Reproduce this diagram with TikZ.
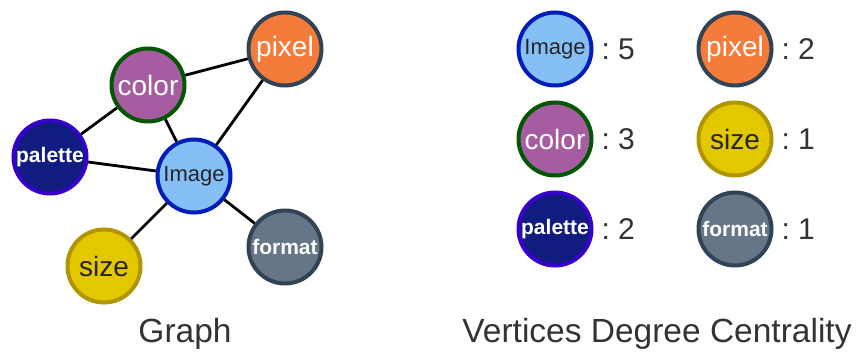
\documentclass[tikz,border=0pt]{standalone}
\usepackage{fontspec}
\setmainfont{Liberation Sans}
\usetikzlibrary{positioning}

\definecolor{imgfill}{HTML}{85BFF6}
\definecolor{imgline}{HTML}{001DBC}
\definecolor{colfill}{HTML}{A65CA0}
\definecolor{colline}{HTML}{005700}
\definecolor{palfill}{HTML}{111C80}
\definecolor{palline}{HTML}{3700CC}
\definecolor{pixfill}{HTML}{F57B3A}
\definecolor{pixline}{HTML}{314354}
\definecolor{sizfill}{HTML}{E3C800}
\definecolor{sizline}{HTML}{B09500}
\definecolor{fmtfill}{HTML}{647687}
\definecolor{fmtline}{HTML}{314354}
\definecolor{txtdark}{HTML}{333333}

\begin{document}
\begin{tikzpicture}[x=1pt, y=-1pt,
    vtx/.style n args={3}{circle, minimum size=73pt, inner sep=0pt,
        line width=4pt, fill=#1, draw=#2, text=#3},
    edge/.style={line width=2.8pt, black},
    deg/.style={inner sep=0pt, text=txtdark, font=\fontsize{30}{30}\selectfont},
    title/.style={anchor=base, text=txtdark, font=\fontsize{33.5}{34}\selectfont}]
    % 1. Khung ve
    \useasboundingbox (0,0) rectangle (859,352);

    % 2. Cac dinh cua do thi
    \node[vtx={imgfill}{imgline}{black!85}, font=\fontsize{22}{22}\selectfont] (img) at (194,176) {Image};
    \node[vtx={colfill}{colline}{white}, font=\fontsize{28}{28}\selectfont] (col) at (148,85) {color};
    \node[vtx={palfill}{palline}{white}, font=\bfseries\fontsize{21}{21}\selectfont] (pal) at (50,157) {palette};
    \node[vtx={pixfill}{pixline}{white}, font=\fontsize{28}{28}\selectfont] (pix) at (285,49) {pixel};
    \node[vtx={sizfill}{sizline}{black!85}, font=\fontsize{28}{28}\selectfont] (siz) at (104,266) {size};
    \node[vtx={fmtfill}{fmtline}{white}, font=\bfseries\fontsize{21}{21}\selectfont] (fmt) at (285,247) {format};

    % 3. Cac canh
    \draw[edge] (col) -- (pix);
    \draw[edge] (col) -- (pal);
    \draw[edge] (col) -- (img);
    \draw[edge] (pix) -- (img);
    \draw[edge] (pal) -- (img);
    \draw[edge] (img) -- (siz);
    \draw[edge] (img) -- (fmt);

    % 4. Bang bac cua dinh
    \node[vtx={imgfill}{imgline}{black!85}, font=\fontsize{22}{22}\selectfont] (imgR) at (555,49) {Image};
    \node[vtx={colfill}{colline}{white}, font=\fontsize{28}{28}\selectfont] (colR) at (555,139) {color};
    \node[vtx={palfill}{palline}{white}, font=\bfseries\fontsize{21}{21}\selectfont] (palR) at (555,229) {palette};
    \node[vtx={pixfill}{pixline}{white}, font=\fontsize{28}{28}\selectfont] (pixR) at (735,49) {pixel};
    \node[vtx={sizfill}{sizline}{black!85}, font=\fontsize{28}{28}\selectfont] (sizR) at (735,139) {size};
    \node[vtx={fmtfill}{fmtline}{white}, font=\bfseries\fontsize{21}{21}\selectfont] (fmtR) at (735,229) {format};

    \node[deg, right=8pt of imgR] (imgD) {:\hspace{8pt}5};
    \node[deg, right=8pt of colR] (colD) {:\hspace{8pt}3};
    \node[deg, right=8pt of palR] (palD) {:\hspace{8pt}2};
    \node[deg, right=8pt of pixR] (pixD) {:\hspace{8pt}2};
    \node[deg, right=8pt of sizR] (sizD) {:\hspace{8pt}1};
    \node[deg, right=8pt of fmtR] (fmtD) {:\hspace{8pt}1};

    % 5. Tieu de
    \node[title] (graphT) at (185,342) {Graph};
    \node[title] (degT) at (657,342) {Vertices Degree Centrality};
\end{tikzpicture}
\end{document}
